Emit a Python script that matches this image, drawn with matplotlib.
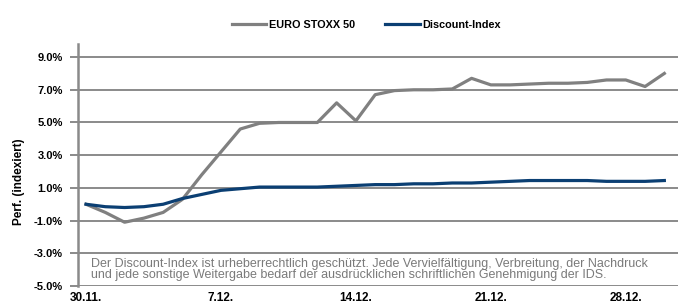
import numpy as np
import pandas as pd
import matplotlib
matplotlib.use('Agg')
import matplotlib.pyplot as plt

plt.rcParams['font.family'] = ['Liberation Sans', 'DejaVu Sans']

# daily values, 30.11. - 30.12.
dates = pd.date_range('2012-11-30', '2012-12-30', freq='D')
euro_stoxx = [0.0, -0.5, -1.1, -0.85, -0.5, 0.3, 1.8, 3.2, 4.6, 4.95,
              5.0, 5.0, 5.0, 6.2, 5.1, 6.7, 6.95, 7.0, 7.0, 7.05,
              7.7, 7.3, 7.3, 7.35, 7.4, 7.4, 7.45, 7.6, 7.6, 7.2, 8.0]
discount = [0.0, -0.15, -0.2, -0.15, 0.0, 0.35, 0.6, 0.85, 0.95, 1.05,
            1.05, 1.05, 1.05, 1.1, 1.15, 1.2, 1.2, 1.25, 1.25, 1.3,
            1.3, 1.35, 1.4, 1.45, 1.45, 1.45, 1.45, 1.4, 1.4, 1.4, 1.45]

tick_dates = pd.to_datetime(['2012-11-30', '2012-12-07', '2012-12-14',
                             '2012-12-21', '2012-12-28'])
tick_labels = ['30.11.', '7.12.', '14.12.', '21.12.', '28.12.']
yticks = [-5, -3, -1, 1, 3, 5, 7, 9]

note = ('Der Discount-Index ist urheberrechtlich geschützt. Jede Vervielfältigung, '
        'Verbreitung, der Nachdruck\nund jede sonstige Weitergabe bedarf der '
        'ausdrücklichen schriftlichen Genehmigung der IDS.')

grey = '#808080'
blue = '#0b3f73'

fig = plt.figure(figsize=(6.8, 3.07), dpi=100)
ax = fig.add_axes([78/680, 1 - 286/307, 600/680, (286 - 44)/307])

ax.plot(dates, euro_stoxx, color=grey, lw=2.3, label='EURO STOXX 50', zorder=3)
ax.plot(dates, discount, color=blue, lw=2.3, label='Discount-Index', zorder=4)

ax.set_ylim(-5, 9.8)
ax.set_xlim(dates[0] - pd.Timedelta(hours=10), dates[-1] + pd.Timedelta(hours=17))
ax.set_yticks(yticks)
ax.set_yticklabels(['%.1f%%' % v for v in yticks], fontsize=8, fontweight='bold')
ax.set_xticks(tick_dates)
ax.set_xticklabels(tick_labels, fontsize=8.5, fontweight='bold')
ax.grid(axis='y', color='#8a8a8a', lw=1.4)
ax.set_axisbelow(True)
ax.tick_params(axis='y', length=6, width=1.4, color='#8a8a8a', pad=5)
ax.tick_params(axis='x', length=0, pad=4)
for s in ['top', 'right', 'bottom']:
    ax.spines[s].set_visible(False)
ax.spines['left'].set_color('#8a8a8a')
ax.spines['left'].set_linewidth(1.8)

ax.set_ylabel('Perf. (indexiert)', fontsize=8.5, fontweight='bold')
ax.yaxis.set_label_coords(-0.088, 0.43)

ax.text(0.022, 0.068, note, transform=ax.transAxes, fontsize=9, color='#7a7a7a',
        va='center', ha='left', linespacing=0.8)

ax.legend(loc='center', bbox_to_anchor=(0.48, 1.08), ncol=2, frameon=False,
          prop=dict(size=7.8, weight='bold'), handlelength=3.2, columnspacing=2.8,
          handletextpad=0.2)

fig.savefig('out.png', dpi=100)
